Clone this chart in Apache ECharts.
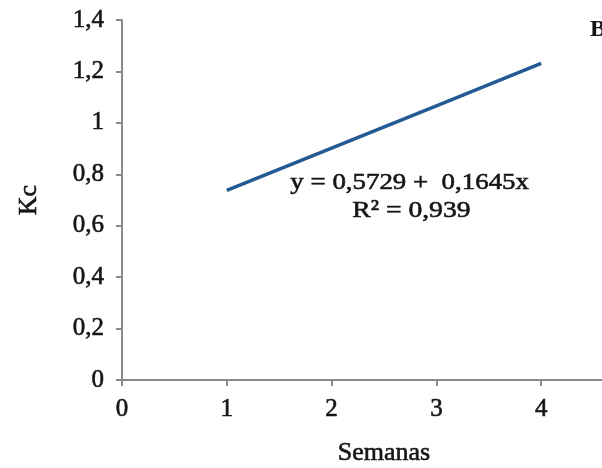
<!DOCTYPE html>
<html>
<head>
<meta charset="utf-8">
<script src="https://cdn.jsdelivr.net/npm/echarts@6/dist/echarts.min.js"></script>
<style>html,body{margin:0;padding:0;background:#fff;}#c{width:602px;height:468px;}</style>
</head>
<body>
<div id="c"></div>
<script>
var weeks = [1, 2, 3, 4];
var kcFit = [0.737, 0.902, 1.066, 1.231];
var equationText = 'y = 0,5729 +  0,1645x';
var r2Text = 'R\u00b2 = 0,939';
var panelLabel = 'B';

var chart = echarts.init(document.getElementById('c'));
var serif = '"Liberation Serif", "Times New Roman", serif';
var fmt = function (v) { return String(Math.round(v * 10) / 10).replace('.', ','); };
var txt = '#151515';
var thick = { textBorderColor: txt, textBorderWidth: 0.6 };
function ts(size) {
  return { fontFamily: serif, fontSize: size, color: txt, textBorderColor: txt, textBorderWidth: 0.6 };
}
chart.setOption({
  animation: false,
  backgroundColor: '#fff',
  grid: { left: 122, top: 20, width: 524, height: 360, outerBoundsMode: 'none', containLabel: false },
  xAxis: {
    type: 'value', min: 0, max: 5, interval: 1,
    name: 'Semanas', nameLocation: 'middle', nameGap: 60,
    nameTextStyle: ts(26),
    axisLine: { show: true, onZero: false, lineStyle: { color: '#8a8a8a', width: 2 } },
    axisTick: { show: true, length: 6, lineStyle: { color: '#8a8a8a', width: 2 } },
    axisLabel: Object.assign({ margin: 17 }, ts(25)),
    splitLine: { show: false }
  },
  yAxis: {
    type: 'value', min: 0, max: 1.4, interval: 0.2,
    name: 'Kc', nameLocation: 'middle', nameGap: 80, nameRotate: 90,
    nameTextStyle: ts(26),
    axisLine: { show: true, lineStyle: { color: '#8a8a8a', width: 2 } },
    axisTick: { show: true, length: 6, lineStyle: { color: '#8a8a8a', width: 2 } },
    axisLabel: Object.assign({ margin: 18, formatter: fmt }, ts(25)),
    splitLine: { show: false }
  },
  series: [{
    type: 'line',
    data: weeks.map(function (w, i) { return [w, kcFit[i]]; }),
    showSymbol: false,
    lineStyle: { color: '#245a93', width: 3.5 }
  }],
  graphic: [
    { type: 'text', left: 290, top: 170, scaleX: 1.12, style: { text: equationText, font: '24px ' + serif, fill: txt, stroke: txt, lineWidth: 0.6 } },
    { type: 'text', left: 352, top: 198, scaleX: 1.15, style: { text: r2Text, font: '24px ' + serif, fill: txt, stroke: txt, lineWidth: 0.6 } },
    { type: 'text', left: 590, top: 18, style: { text: panelLabel, font: 'bold 24px ' + serif, fill: txt } }
  ]
});
</script>
</body>
</html>
